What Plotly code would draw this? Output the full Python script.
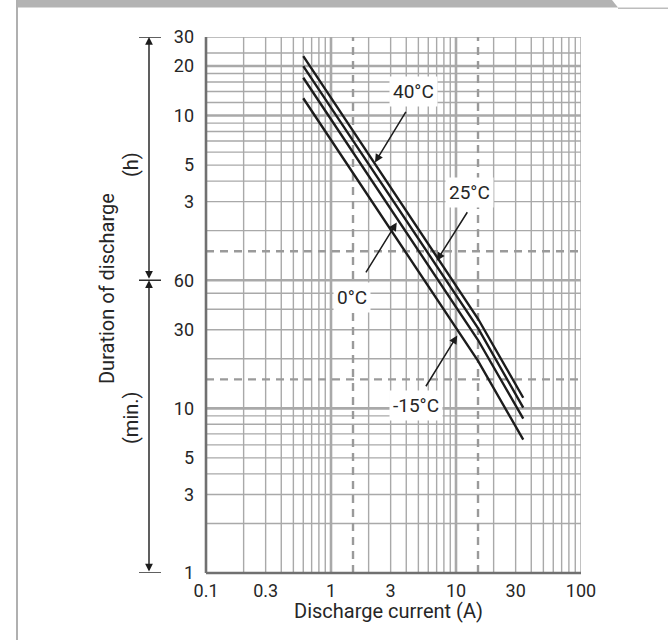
import math
import plotly.graph_objects as go

# ---------------- data ----------------
current_A = [0.6, 15, 34.5]                # discharge current (A)
t_40C = [1378, 35.0, 11.6]                 # duration (min) at 40°C
t_25C = [1199, 30.7, 10.1]                 # duration (min) at 25°C
t_0C = [1018, 26.0, 8.65]                  # duration (min) at 0°C
t_m15C = [764, 19.4, 6.45]                 # duration (min) at -15°C

series = [("40°C", t_40C), ("25°C", t_25C), ("0°C", t_0C), ("-15°C", t_m15C)]

x_tickvals = [0.1, 0.3, 1, 3, 10, 30, 100]
x_ticktext = ["0.1", "0.3", "1", "3", "10", "30", "100"]
y_tickvals = [1, 3, 5, 10, 30, 60, 180, 300, 600, 1200, 1800]
y_ticktext = ["1", "3", "5", "10", "30", "60", "3", "5", "10", "20", "30"]

# grid values
x_grid_thin = [0.2, 0.3, 0.4, 0.5, 0.6, 0.7, 0.8, 0.9, 2, 3, 4, 5, 6, 7, 8, 9,
               20, 30, 40, 50, 60, 70, 80, 90, 100]
x_grid_thick = [1, 10]
x_grid_dash = [1.5, 15]
y_grid_thin_min = [2, 3, 4, 5, 6, 7, 8, 9, 20, 30, 40, 50]
y_grid_thin_h = [2, 3, 4, 5, 6, 7, 8, 9, 12, 14, 16, 18, 24, 30]
y_grid_thick = [10, 60, 600, 1200]
y_grid_dash = [15, 90]

# ---------------- layout geometry ----------------
W, H = 668, 640
L, R, T, B = 206, 581, 37, 573
FONT = "Roboto, 'DejaVu Sans', sans-serif"
TXT = "#262626"
GRID = "#a9a9a9"


def px(xpix):
    return (xpix - L) / (R - L)


def py(ypix):
    return (B - ypix) / (B - T)


fig = go.Figure()
for name, vals in series:
    fig.add_trace(go.Scatter(x=current_A, y=vals, mode="lines", name=name,
                             line=dict(color="#1c1c1c", width=2.4),
                             showlegend=False, hoverinfo="skip"))

shapes = []
for v in x_grid_thin:
    shapes.append(dict(type="line", xref="x", yref="paper", x0=v, x1=v, y0=0, y1=1,
                       line=dict(color=GRID, width=1.4), layer="below"))
for v in x_grid_thick:
    shapes.append(dict(type="line", xref="x", yref="paper", x0=v, x1=v, y0=0, y1=1,
                       line=dict(color=GRID, width=2.6), layer="below"))
for v in y_grid_thin_min + [h * 60 for h in y_grid_thin_h]:
    shapes.append(dict(type="line", xref="paper", yref="y", x0=0, x1=1, y0=v, y1=v,
                       line=dict(color=GRID, width=1.4), layer="below"))
for v in y_grid_thick:
    shapes.append(dict(type="line", xref="paper", yref="y", x0=0, x1=1, y0=v, y1=v,
                       line=dict(color=GRID, width=2.6), layer="below"))
for v in x_grid_dash:
    shapes.append(dict(type="line", xref="x", yref="paper", x0=v, x1=v, y0=0, y1=1,
                       line=dict(color="#9a9a9a", width=2.4, dash="8px,6px"), layer="below"))
for v in y_grid_dash:
    shapes.append(dict(type="line", xref="paper", yref="y", x0=0, x1=1, y0=v, y1=v,
                       line=dict(color="#9a9a9a", width=2.4, dash="8px,6px"), layer="below"))
# axis lines (left & bottom)
shapes.append(dict(type="line", xref="paper", yref="paper", x0=0, x1=0, y0=0, y1=1,
                   line=dict(color="#707070", width=2.6)))
shapes.append(dict(type="line", xref="paper", yref="paper", x0=0, x1=1, y0=0, y1=0,
                   line=dict(color="#707070", width=2.6)))
# T bars on the left scale indicator
for v in [1800, 60, 1]:
    shapes.append(dict(type="line", xref="paper", yref="y", x0=px(139), x1=px(161), y0=v, y1=v,
                       line=dict(color="#1c1c1c", width=1.4)))
# page frame: top grey bar with slanted end, thin line, left border
shapes.append(dict(type="path", xref="paper", yref="paper",
                   path=f"M {px(17)} {py(0)} L {px(612)} {py(0)} L {px(618)} {py(7.5)} L {px(17)} {py(7.5)} Z",
                   fillcolor="#b3b3b3", line=dict(width=0)))
shapes.append(dict(type="line", xref="paper", yref="paper", x0=px(618), x1=px(668), y0=py(8.3), y1=py(8.3),
                   line=dict(color="#bdbdbd", width=1.5)))
shapes.append(dict(type="line", xref="paper", yref="paper", x0=px(17), x1=px(17), y0=py(0), y1=py(640),
                   line=dict(color="#b0b0b0", width=2)))

annotations = []
# double-headed arrows for (h) and (min.)
for top, bot in [(1800, 60), (60, 1)]:
    annotations.append(dict(xref="paper", yref="y", x=px(149), y=math.log10(top),
                            axref="pixel", ayref="y", ax=0, ay=math.log10(bot),
                            text="", showarrow=True, arrowhead=2, arrowside="end+start",
                            arrowsize=1.1, arrowwidth=1.4, arrowcolor="#1c1c1c", standoff=0,
                            startstandoff=0))
side_font = dict(family=FONT, size=20, color=TXT)
annotations.append(dict(xref="paper", yref="paper", x=px(107), y=py(289), text="Duration of discharge",
                        textangle=-90, showarrow=False, xanchor="center", yanchor="middle", font=side_font))
annotations.append(dict(xref="paper", yref="paper", x=px(131), y=py(165), text="(h)",
                        textangle=-90, showarrow=False, xanchor="center", yanchor="middle", font=side_font))
annotations.append(dict(xref="paper", yref="paper", x=px(131), y=py(418), text="(min.)",
                        textangle=-90, showarrow=False, xanchor="center", yanchor="middle", font=side_font))
annotations.append(dict(xref="paper", yref="paper", x=px(388), y=py(611), text="Discharge current (A)",
                        showarrow=False, xanchor="center", yanchor="middle", font=side_font))

# curve labels: (label, text pos, arrow tail, arrow tip) in log10 data units
labels = [
    ("40°C", (0.658, 2.927), (0.606, 2.810), (0.352, 2.493)),
    ("25°C", (1.106, 2.311), (1.098, 2.200), (0.846, 1.897)),
    ("0°C", (0.166, 1.675), (0.272, 1.816), (0.526, 2.129)),
    ("-15°C", (0.680, 1.018), (0.752, 1.125), (1.010, 1.442)),
]
for txt, tpos, tail, tip in labels:
    annotations.append(dict(xref="x", yref="y", axref="x", ayref="y",
                            x=tip[0], y=tip[1], ax=tail[0], ay=tail[1], text="",
                            showarrow=True, arrowhead=2, arrowsize=1.1, arrowwidth=1.5,
                            arrowcolor="#1c1c1c", standoff=0))
    annotations.append(dict(xref="x", yref="y", x=tpos[0], y=tpos[1], text=txt, showarrow=False,
                            xanchor="center", yanchor="middle", bgcolor="white", borderpad=3,
                            font=dict(family=FONT, size=19, color=TXT)))

fig.update_layout(
    width=W, height=H,
    margin=dict(l=L, r=W - R, t=T, b=H - B, pad=0),
    paper_bgcolor="white", plot_bgcolor="white",
    shapes=shapes, annotations=annotations,
    font=dict(family=FONT, size=18, color=TXT),
    xaxis=dict(type="log", range=[-1, 2], tickvals=x_tickvals, ticktext=x_ticktext,
               showgrid=False, zeroline=False, showline=False, ticks="",
               ticklabelstandoff=5, tickfont=dict(family=FONT, size=18, color=TXT)),
    yaxis=dict(type="log", range=[0, math.log10(1800)], tickvals=y_tickvals, ticktext=y_ticktext,
               showgrid=False, zeroline=False, showline=False, ticks="",
               ticklabelstandoff=11, tickfont=dict(family=FONT, size=18, color=TXT)),
)

fig.write_html("out.html", config={"displayModeBar": False},
               post_script="document.body.style.margin='0';")
